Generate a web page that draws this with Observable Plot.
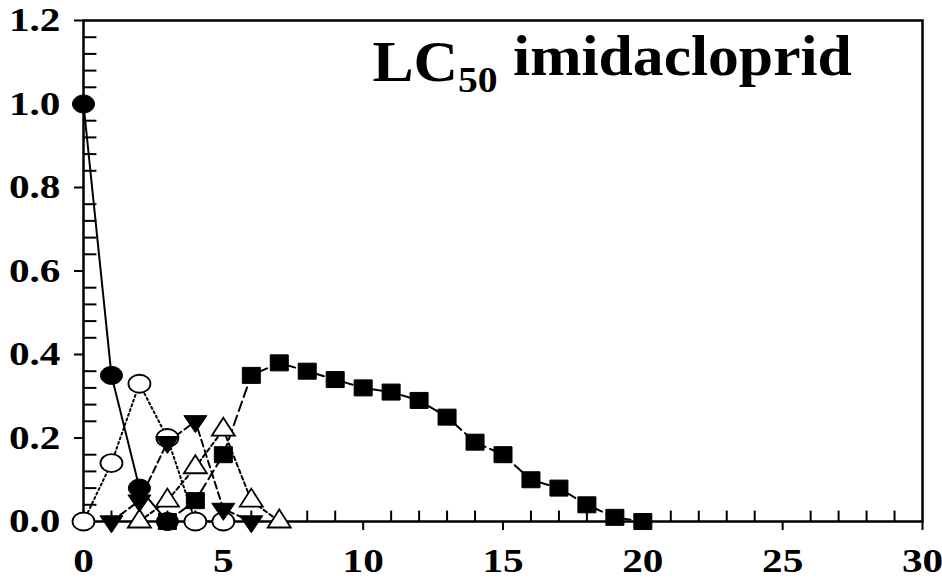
<!DOCTYPE html>
<html><head><meta charset="utf-8">
<script src="https://cdn.jsdelivr.net/npm/d3@7"></script>
<script src="https://cdn.jsdelivr.net/npm/@observablehq/plot@0.6"></script>
<style>body{margin:0;background:#fff}</style>
</head><body><div id="chart"></div>
<script>
// Tick labels
const xTicks = [0, 5, 10, 15, 20, 25, 30];
const yTicks = [0, 0.2, 0.4, 0.6, 0.8, 1.0, 1.2];

// Series values (x = time, y = proportion)
const filledCircleX = [0, 1, 2, 3];
const filledCircleY = [1.0, 0.35, 0.08, 0.0];
const openCircleX = [0, 1, 2, 3, 4, 5];
const openCircleY = [0.0, 0.14, 0.33, 0.20, 0.0, 0.0];
const filledTriX = [1, 2, 3, 4, 5, 6];
const filledTriY = [0.0, 0.05, 0.19, 0.24, 0.03, 0.0];
const openTriX = [2, 3, 4, 5, 6, 7];
const openTriY = [0.0, 0.05, 0.13, 0.22, 0.05, 0.0];
const squareX = [3, 4, 5, 6, 7, 8, 9, 10, 11, 12, 13, 14, 15, 16, 17, 18, 19, 20];
const squareY = [0.0, 0.05, 0.16, 0.35, 0.38, 0.36, 0.34, 0.32, 0.31, 0.29, 0.25, 0.19, 0.16, 0.10, 0.08, 0.04, 0.01, 0.0];

const titleText = "LC50 imidacloprid";

const toRows = (xs, ys) => xs.map((x, i) => ({x, y: ys[i]}));
const fc = toRows(filledCircleX, filledCircleY);
const oc = toRows(openCircleX, openCircleY);
const ft = toRows(filledTriX, filledTriY);
const ot = toRows(openTriX, openTriY);
const sq = toRows(squareX, squareY);

// Marker shapes (slightly wider than tall, like the reference)
const ellipse = (rx, ry) => ({
  draw(ctx) {
    const k = 0.5523;
    ctx.moveTo(rx, 0);
    ctx.bezierCurveTo(rx, ry * k, rx * k, ry, 0, ry);
    ctx.bezierCurveTo(-rx * k, ry, -rx, ry * k, -rx, 0);
    ctx.bezierCurveTo(-rx, -ry * k, -rx * k, -ry, 0, -ry);
    ctx.bezierCurveTo(rx * k, -ry, rx, -ry * k, rx, 0);
    ctx.closePath();
  }
});
const rectSym = (w, h) => ({
  draw(ctx) { ctx.rect(-w / 2, -h / 2, w, h); }
});
const triSym = (w, h, down) => ({
  draw(ctx) {
    const s = down ? -1 : 1;
    ctx.moveTo(0, -s * h * 2 / 3);
    ctx.lineTo(w / 2, s * h / 3);
    ctx.lineTo(-w / 2, s * h / 3);
    ctx.closePath();
  }
});

const xMinor = d3.range(0, 31).filter(v => v % 5 !== 0);
const yMinor = d3.range(0, 31).map(i => i * 0.04).filter((v, i) => i % 5 !== 0);

const font = "'Liberation Serif', 'Times New Roman', serif";

const plot = Plot.plot({
  width: 942,
  height: 578,
  marginLeft: 83,
  marginRight: 20,
  marginTop: 20,
  marginBottom: 57,
  style: {fontFamily: font, fontWeight: "bold", fontSize: "33px", background: "#fff", color: "#000"},
  x: {domain: [0, 30]},
  y: {domain: [0, 1.2]},
  marks: [
    Plot.ruleX(xMinor, {x: d => d, y1: () => 0, y2: () => 0.025, stroke: "#000", strokeWidth: 2}),
    Plot.ruleY(yMinor, {y: d => d, x1: () => 0, x2: () => 0.48, stroke: "#000", strokeWidth: 2}),
    Plot.axisX(xTicks, {tickSize: 9, tickPadding: 18, strokeWidth: 2, tickFormat: d => String(d), label: null, className: "tick-lab"}),
    Plot.axisY(yTicks, {tickSize: 9, tickPadding: 14, strokeWidth: 2, tickFormat: d => d.toFixed(1), label: null, className: "tick-lab"}),
    Plot.frame({stroke: "#000", strokeWidth: 2.5}),
    Plot.line(fc, {x: "x", y: "y", stroke: "#000", strokeWidth: 2}),
    Plot.line(oc, {x: "x", y: "y", stroke: "#000", strokeWidth: 2, strokeDasharray: "2,3"}),
    Plot.line(ft, {x: "x", y: "y", stroke: "#000", strokeWidth: 2, strokeDasharray: "7,4"}),
    Plot.line(ot, {x: "x", y: "y", stroke: "#000", strokeWidth: 2, strokeDasharray: "4,3"}),
    Plot.line(sq, {x: "x", y: "y", stroke: "#000", strokeWidth: 2, strokeDasharray: "10,5"}),
    Plot.dot(oc, {x: "x", y: "y", symbol: ellipse(11, 9), fill: "#fff", stroke: "#000", strokeWidth: 1.8}),
    Plot.dot(ot, {x: "x", y: "y", symbol: triSym(23, 18, false), fill: "#fff", stroke: "#000", strokeWidth: 1.8}),
    Plot.dot(sq, {x: "x", y: "y", symbol: rectSym(18, 16), fill: "#000", stroke: "#000", strokeWidth: 1}),
    Plot.dot(ft, {x: "x", y: "y", symbol: triSym(23, 17, true), fill: "#000", stroke: "#000", strokeWidth: 1}),
    Plot.dot(fc, {x: "x", y: "y", symbol: ellipse(11, 9), fill: "#000", stroke: "#000", strokeWidth: 1}),
    Plot.text([titleText], {text: d => d, frameAnchor: "top-left", dx: 289, dy: 21, textAnchor: "start", lineAnchor: "top", fontSize: 56, fontWeight: "bold", className: "chart-title"})
  ]
});
document.getElementById("chart").appendChild(plot);

// Horizontal stretch of the text, as in the reference picture
function stretch(sel, k) {
  d3.select(plot).selectAll(sel).each(function() {
    const t = this.getAttribute("transform") || "";
    this.setAttribute("transform", t + ` scale(${k},1)`);
  });
}

// Subscript "50" in the title
d3.select(plot).selectAll(".chart-title text").each(function() {
  const t = d3.select(this);
  const m = t.text().match(/^(LC)(50)(.*)$/);
  if (!m) return;
  t.text(null);
  t.append("tspan").text(m[1]);
  t.append("tspan").attr("font-size", 36).attr("dy", "0.3em").text(m[2]);
  t.append("tspan").attr("dy", "-0.3em").attr("font-size", 56).text(m[3]);
});
stretch(".chart-title text", 1.1);
stretch("[aria-label='x-axis tick label'] text", 1.25);
stretch("[aria-label='y-axis tick label'] text", 1.25);
</script>
</body></html>
